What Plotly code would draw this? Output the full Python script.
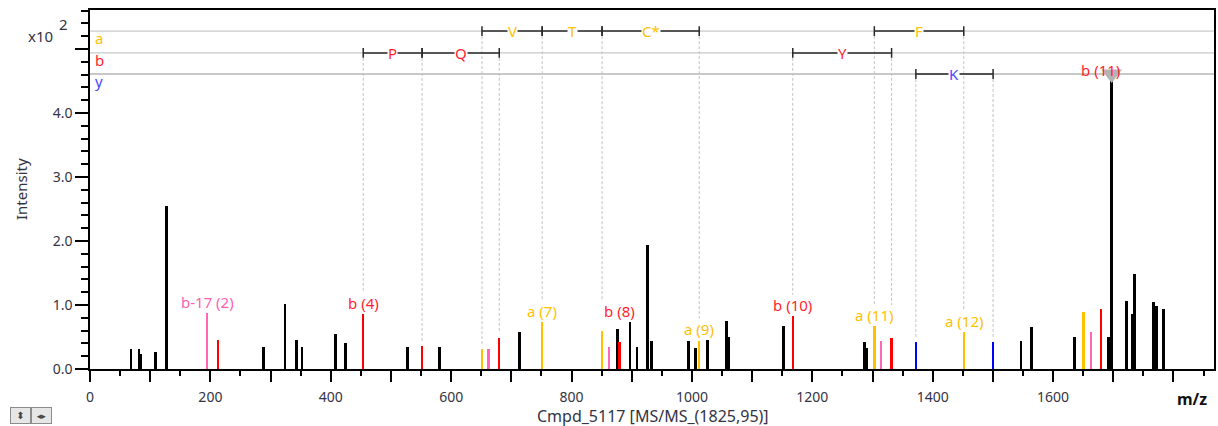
import plotly.graph_objects as go

# ---------------- data (m/z, intensity x100) ----------------
black_mz = [68.0, 81.3, 84.1, 108.5, 127.7, 288.1, 323.9, 343.3, 352.1, 407.5, 425.0,
            527.4, 580.4, 713.1, 876.8, 897.2, 908.8, 925.9, 932.5, 994.5, 1005.5,
            1026.0, 1056.9, 1061.4, 1152.6, 1286.9, 1290.2, 1546.8, 1564.4, 1635.2,
            1692.0, 1697.3, 1721.4, 1731.3, 1735.2, 1766.2, 1769.0, 1771.6, 1783.9]
black_int = [0.32, 0.32, 0.24, 0.26, 2.54, 0.34, 1.01, 0.45, 0.34, 0.55, 0.40,
             0.34, 0.34, 0.58, 0.62, 0.73, 0.35, 1.93, 0.44, 0.44, 0.33,
             0.46, 0.75, 0.50, 0.67, 0.42, 0.33, 0.44, 0.65, 0.50,
             0.50, 4.50, 1.07, 0.86, 1.49, 1.05, 0.99, 0.99, 0.93]

a_mz = [651.2, 751.2, 850.7, 1012.1, 1303.0, 1451.6, 1650.6]
a_int = [0.31, 0.73, 0.60, 0.44, 0.67, 0.58, 0.89]

b17_mz = [194.5, 662.2, 861.8, 1313.9, 1663.3]
b17_int = [0.88, 0.31, 0.35, 0.44, 0.58]

b_mz = [212.3, 453.9, 551.7, 679.9, 879.4, 1167.5, 1331.7, 1679.4]
b_int = [0.45, 0.86, 0.36, 0.48, 0.42, 0.83, 0.48, 0.93]

y_mz = [1372.0, 1500.3]
y_int = [0.42, 0.42]

# peak annotations
label_text = ["b-17 (2)", "b (4)", "a (7)", "b (8)", "a (9)", "b (10)", "a (11)", "a (12)", "b (11)"]
label_mz = [194.5, 453.9, 751.2, 879.4, 1012.1, 1167.5, 1303.0, 1451.6, 1679.4]
label_kind = ["b17", "b", "a", "b", "a", "b", "a", "a", "b"]

# sequence ladders: (series, start m/z, end m/z, residue)
ladder_series = ["a", "a", "a", "a", "b", "b", "b", "y"]
ladder_start = [651.2, 751.2, 850.7, 1303.0, 453.9, 551.7, 1167.5, 1372.0]
ladder_end = [751.2, 850.7, 1012.1, 1451.6, 551.7, 679.9, 1331.7, 1500.3]
ladder_res = ["V", "T", "C*", "F", "P", "Q", "Y", "K"]

x_ticks = list(range(0, 1900, 100))
x_labels = ["0", "200", "400", "600", "800", "1000", "1200", "1400", "1600"]
y_ticks = [0, 1, 2, 3, 4, 5]
y_labels = ["0.0", "1.0", "2.0", "3.0", "4.0"]

# ---------------- style ----------------
FONT = "Noto Sans"
COL = {"black": "#000000", "a": "#FFC000", "b": "#FF0000", "b17": "#FF66B8", "y": "#0000FF"}
TXT = {"a": "#FFC000", "b": "#FF1E2E", "b17": "#FF5FB0", "y": "#4848FF"}
BAR_W = {"black": 4.6, "a": 4.0, "b17": 4.0, "b": 4.0, "y": 4.0}
ROW_Y = {"a": 5.28, "b": 4.94, "y": 4.61}
X_MAX = 1867.3
Y_MAX = 5.61
PLOT_H = 426 - 10 - 57
PX = PLOT_H / Y_MAX          # pixels per intensity unit

all_mz = black_mz + a_mz + b17_mz + b_mz + y_mz
all_int = black_int + a_int + b17_int + b_int + y_int


def local_max(mz, half=30):
    return max(h for m, h in zip(all_mz, all_int) if abs(m - mz) <= half)


def peak_height(mz):
    best = min(range(len(all_mz)), key=lambda i: abs(all_mz[i] - mz))
    return all_int[best]


fig = go.Figure()

for name, xs, ys in [("black", black_mz, black_int), ("a", a_mz, a_int),
                     ("b17", b17_mz, b17_int), ("b", b_mz, b_int), ("y", y_mz, y_int)]:
    fig.add_trace(go.Bar(x=xs, y=ys, width=BAR_W[name], marker=dict(color=COL[name], line=dict(width=0)),
                         showlegend=False, hoverinfo="x+y"))

# label anchors
label_anchor = [local_max(m) for m in label_mz]

# dashed connectors from ladder ticks down to peaks / labels
ladder_points = {}
for s, x0, x1 in zip(ladder_series, ladder_start, ladder_end):
    ladder_points.setdefault((s, x0), None)
    ladder_points.setdefault((s, x1), None)
dx, dy = [], []
for (s, m) in ladder_points:
    near = [i for i, lm in enumerate(label_mz) if abs(lm - m) <= 30]
    if near:
        end = label_anchor[near[0]] + 21 / PX
    else:
        end = peak_height(m) + 5 / PX
    dx += [m, m, None]
    dy += [ROW_Y[s], end, None]
fig.add_trace(go.Scatter(x=dx, y=dy, mode="lines", line=dict(color="#C2C2C2", width=1, dash="3px,2px"),
                         showlegend=False, hoverinfo="skip"))

# ladder segments
lx, ly, tx, ty = [], [], [], []
for s, x0, x1 in zip(ladder_series, ladder_start, ladder_end):
    lx += [x0, x1, None]
    ly += [ROW_Y[s], ROW_Y[s], None]
    tx += [x0, x1]
    ty += [ROW_Y[s], ROW_Y[s]]
fig.add_trace(go.Scatter(x=lx, y=ly, mode="lines", line=dict(color="#2A2A2A", width=1.5),
                         showlegend=False, hoverinfo="skip"))
fig.add_trace(go.Scatter(x=tx, y=ty, mode="markers",
                         marker=dict(symbol="line-ns", size=7, line=dict(color="#2A2A2A", width=1.5)),
                         showlegend=False, hoverinfo="skip"))

# grey triangle on the base peak
imax = max(range(len(all_int)), key=lambda i: all_int[i])
fig.add_trace(go.Scatter(x=[all_mz[imax]], y=[all_int[imax] + 7 / PX], mode="markers",
                         marker=dict(symbol="triangle-down", size=18, color="#B4B4B4",
                                     line=dict(width=0)),
                         showlegend=False, hoverinfo="skip"))

shapes = []
for s in ["a", "b", "y"]:
    shapes.append(dict(type="line", xref="paper", x0=0, x1=1, yref="y", y0=ROW_Y[s], y1=ROW_Y[s],
                       line=dict(color="#C8C8C8", width=1.3 if s != "y" else 2), layer="below"))

ann = []
for s, x0, x1, r in zip(ladder_series, ladder_start, ladder_end, ladder_res):
    ann.append(dict(x=(x0 + x1) / 2, y=ROW_Y[s], xref="x", yref="y", text=r, showarrow=False,
                    font=dict(family=FONT, size=15, color=TXT[s]), bgcolor="white", borderpad=0,
                    xanchor="center", yanchor="middle"))
for t, m, k, h in zip(label_text, label_mz, label_kind, label_anchor):
    ann.append(dict(x=m, y=h, xref="x", yref="y", text=t, showarrow=False, yshift=11,
                    font=dict(family=FONT, size=15, color=TXT[k]), xanchor="center", yanchor="middle"))
for s in ["a", "b", "y"]:
    ann.append(dict(x=0.003, y=ROW_Y[s] - 0.115, xref="paper", yref="y", text=s, showarrow=False,
                    font=dict(family=FONT, size=15, color=TXT[s]), xanchor="left", yanchor="middle"))

ann += [
    dict(x=-0.031, y=0.928, xref="paper", yref="paper", text="x10", showarrow=False,
         font=dict(family=FONT, size=15, color="#333344"), xanchor="right", yanchor="middle"),
    dict(x=-0.0295, y=0.962, xref="paper", yref="paper", text="2", showarrow=False,
         font=dict(family=FONT, size=15, color="#333344"), xanchor="left", yanchor="middle"),
    dict(x=-0.0618, y=0.5, xref="paper", yref="paper", text="Intensity", textangle=-90, showarrow=False,
         font=dict(family=FONT, size=15, color="#333344"), xanchor="center", yanchor="middle"),
    dict(x=0.501, y=-0.1315, xref="paper", yref="paper", text="Cmpd_5117 [MS/MS_(1825,95)]", showarrow=False,
         font=dict(family=FONT, size=16, color="#333344"), xanchor="center", yanchor="middle"),
    dict(x=0.980, y=-0.0836, xref="paper", yref="paper", text="<b>m/z</b>", showarrow=False,
         font=dict(family=FONT, size=16, color="#111111"), xanchor="center", yanchor="middle"),
    dict(x=-0.0617, y=-0.1295, xref="paper", yref="paper", text="⬍", showarrow=False,
         font=dict(family="DejaVu Sans", size=10, color="#444444"), bgcolor="#E6E6E6",
         bordercolor="#8C8C8C", borderwidth=1, borderpad=1, width=17, height=13,
         xanchor="center", yanchor="middle"),
    dict(x=-0.0431, y=-0.1295, xref="paper", yref="paper", text="◂▸", showarrow=False,
         font=dict(family="DejaVu Sans", size=9, color="#444444"), bgcolor="#E6E6E6",
         bordercolor="#8C8C8C", borderwidth=1, borderpad=1, width=17, height=13,
         xanchor="center", yanchor="middle"),
]

fig.update_layout(
    width=1218, height=426,
    margin=dict(l=90, r=2, t=10, b=57),
    paper_bgcolor="white", plot_bgcolor="white",
    barmode="overlay", bargap=0,
    font=dict(family=FONT, size=14, color="#333344"),
    shapes=shapes, annotations=ann, showlegend=False,
    xaxis=dict(range=[0, X_MAX], showgrid=False, zeroline=False,
               showline=True, linecolor="black", linewidth=1.5, mirror=True,
               ticks="outside", ticklen=11, tickwidth=1.5, tickcolor="black",
               tickmode="array", tickvals=x_ticks,
               ticktext=[str(v) if str(v) in x_labels else "" for v in x_ticks],
               ticklabelstandoff=3,
               tickfont=dict(family=FONT, size=14, color="#333344"),
               minor=dict(tick0=0, dtick=50, ticks="outside", ticklen=5, tickwidth=1.5, tickcolor="black")),
    yaxis=dict(range=[0, Y_MAX], showgrid=False, zeroline=False,
               showline=True, linecolor="black", linewidth=1.5, mirror=True,
               ticks="outside", ticklen=13, tickwidth=1.5, tickcolor="black",
               tickmode="array", tickvals=y_ticks,
               ticktext=[y_labels[i] if i < len(y_labels) else "" for i in range(len(y_ticks))],
               tickfont=dict(family=FONT, size=14, color="#333344"),
               minor=dict(tick0=0, dtick=0.2, ticks="outside", ticklen=7, tickwidth=1.5, tickcolor="black")),
)

fig.write_html("out.html", config={"displayModeBar": False},
               post_script="document.body.style.margin='0';document.body.style.overflow='hidden';")
